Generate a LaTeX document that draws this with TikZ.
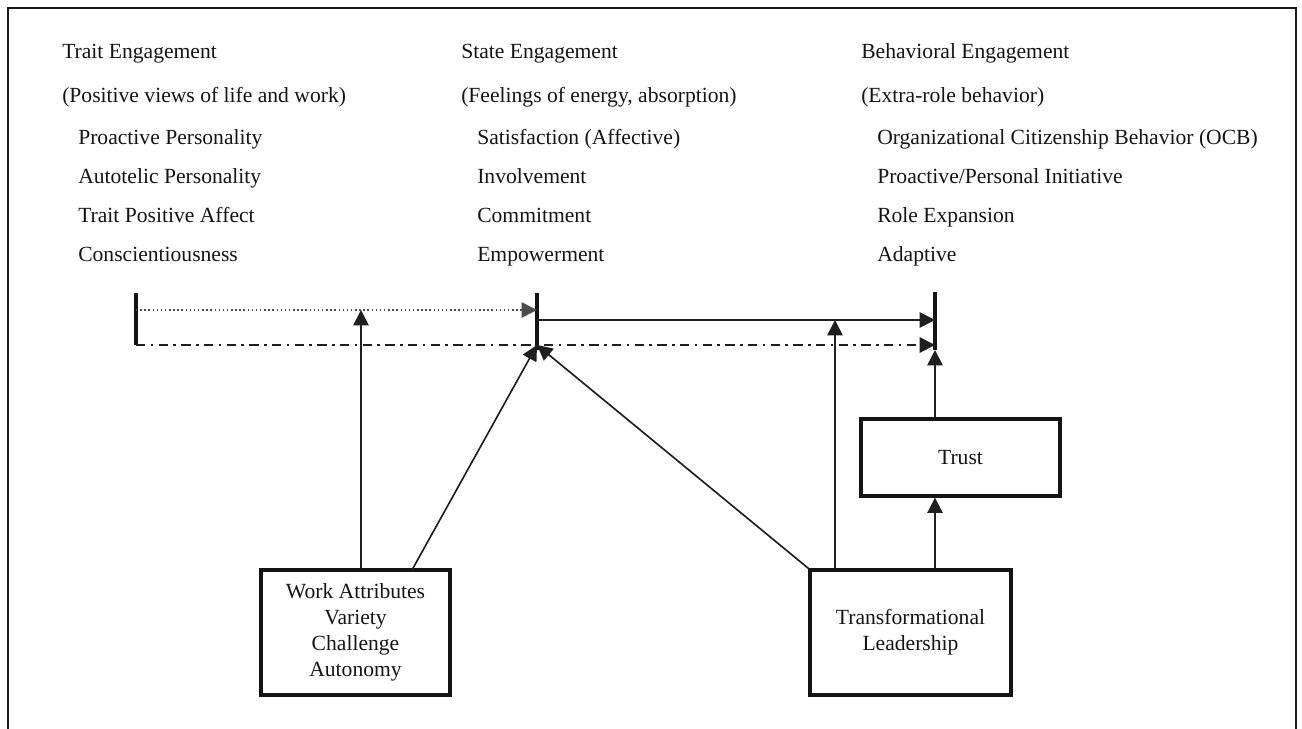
\documentclass[tikz,border=0pt]{standalone}
\usepackage{fontspec}
\setmainfont{Liberation Serif}
\usetikzlibrary{arrows.meta}
\begin{document}
\begin{tikzpicture}[x=0.75pt,y=-0.75pt,
  txt/.style={anchor=base west, inner sep=0pt, text=black!92, font=\fontsize{16.2}{18}\selectfont},
  box/.style={draw=black!92, line width=2.4pt, align=center, inner sep=0pt,
    text=black!92, font=\fontsize{16.2}{19.5}\selectfont},
  bar/.style={draw=black!92, line width=2.4pt},
  conn/.style={draw=black!88, line width=1.25pt},
  tip/.style={-{Triangle[length=11.5pt,width=11.5pt]}},
  arr/.style={conn, tip},
  dotline/.style={draw=black!70, line width=1.1pt, dotted},
  dashdot/.style={draw=black!88, line width=1.5pt, dash pattern=on 7pt off 4pt on 2pt off 4pt}]
\useasboundingbox (0,0) rectangle (1302,728);
% outer frame, open at the bottom
\draw[black!90, line width=1.6pt] (8,740) -- (8,8) -- (1296,8) -- (1296,740);

% column headings and items
\node[txt] (h1) at (62,58) {Trait Engagement};
\node[txt] (s1) at (62,102) {(Positive views of life and work)};
\node[txt] (a1) at (78,144) {Proactive Personality};
\node[txt] (a2) at (78,183) {Autotelic Personality};
\node[txt] (a3) at (78,222) {Trait Positive Affect};
\node[txt] (a4) at (78,261) {Conscientiousness};

\node[txt] (h2) at (461,58) {State Engagement};
\node[txt] (s2) at (461,102) {(Feelings of energy, absorption)};
\node[txt] (b1) at (477,144) {Satisfaction (Affective)};
\node[txt] (b2) at (477,183) {Involvement};
\node[txt] (b3) at (477,222) {Commitment};
\node[txt] (b4) at (477,261) {Empowerment};

\node[txt] (h3) at (861,58) {Behavioral Engagement};
\node[txt] (s3) at (861,102) {(Extra-role behavior)};
\node[txt] (c1) at (877,144) {Organizational Citizenship Behavior (OCB)};
\node[txt] (c2) at (877,183) {Proactive/Personal Initiative};
\node[txt] (c3) at (877,222) {Role Expansion};
\node[txt] (c4) at (877,261) {Adaptive};

% vertical bars marking the three stages
\coordinate (t1) at (136,293); \coordinate (m1) at (136,345);
\coordinate (t2) at (537,293); \coordinate (m2) at (537,350);
\coordinate (t3) at (935,292); \coordinate (m3) at (935,350);
\draw[bar] (t1) -- (m1);
\draw[bar] (t2) -- (m2);
\draw[bar] (t3) -- (m3);

% horizontal links between stages
\coordinate (d1) at (136,310); \coordinate (d2) at (537,310);
\coordinate (e2) at (537,320); \coordinate (e3) at (935,320);
\coordinate (f1) at (136,345); \coordinate (f2) at (537,345); \coordinate (f3) at (935,345);
\draw[dotline, tip] (d1) -- (d2);
\draw[arr] (e2) -- (e3);
\draw[dashdot, tip] (f1) -- (f3);

% boxes
\node[box, minimum width=141.75pt, minimum height=93.75pt] (wa) at (355.5,632.5)
  {Work Attributes\\Variety\\Challenge\\Autonomy};
\node[box, minimum width=150.75pt, minimum height=93.75pt] (tl) at (910.5,632.5)
  {Transformational\\Leadership};
\node[box, minimum width=149.25pt, minimum height=57.75pt] (tr) at (960.5,457.5)
  {Trust};

% arrows from the boxes
\coordinate (p1) at (361,310);
\coordinate (p2) at (835,320);
\coordinate (p3) at (935,350);
\coordinate (q1) at (412,570);
\draw[arr] (p1 |- wa.north) -- (p1);
\draw[arr] (q1) -- (f2);
\draw[arr] (tl.north west) -- (f2);
\draw[arr] (p2 |- tl.north) -- (p2);
\draw[arr] (p3 |- tl.north) -- (p3 |- tr.south);
\draw[arr] (p3 |- tr.north) -- (p3);
\end{tikzpicture}
\end{document}
